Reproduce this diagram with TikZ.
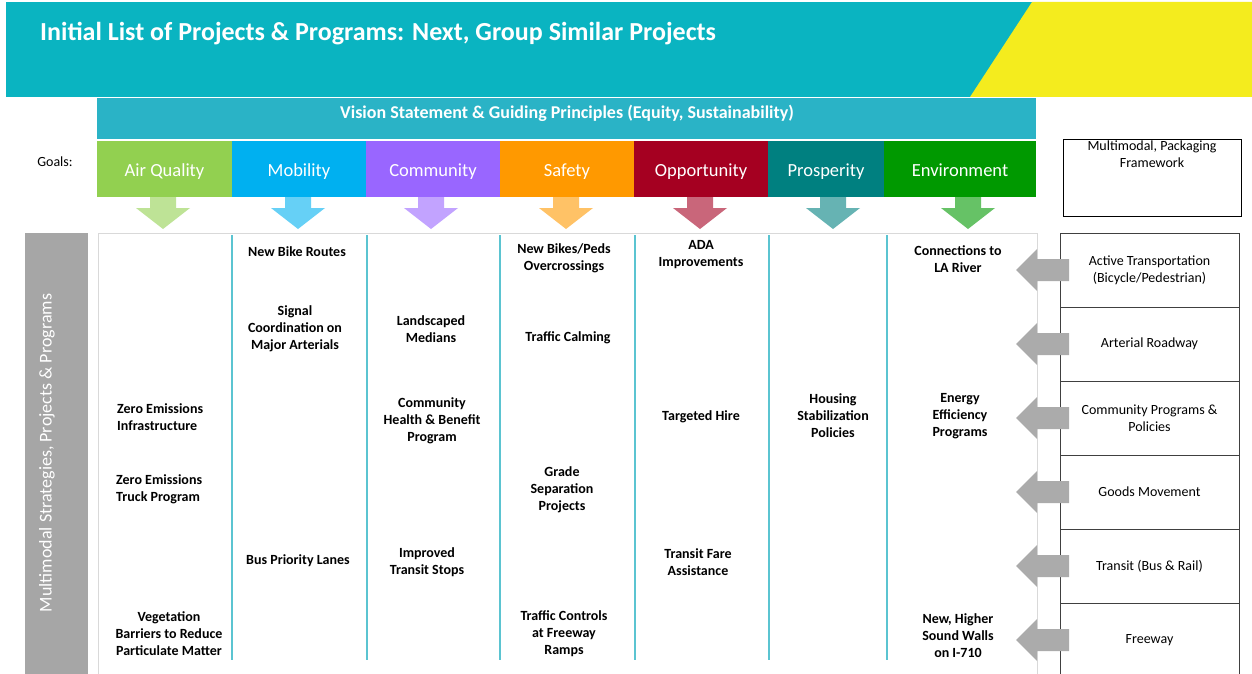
\documentclass[tikz,border=0pt]{standalone}
\usepackage{fontspec}
\setmainfont{Carlito}
\definecolor{HeadTeal}{HTML}{0AB4C1}
\definecolor{HeadYellow}{HTML}{F4EC1E}
\definecolor{Vision}{HTML}{2AB3C6}
\definecolor{AQ}{HTML}{92D050}
\definecolor{MO}{HTML}{00B0F0}
\definecolor{CO}{HTML}{9966FF}
\definecolor{SA}{HTML}{FF9900}
\definecolor{OP}{HTML}{A50021}
\definecolor{PR}{HTML}{008080}
\definecolor{EN}{HTML}{009900}
\definecolor{SepBlue}{HTML}{5BC4D1}
\definecolor{BarGray}{HTML}{A6A6A6}
\definecolor{ArrGray}{HTML}{ABABAB}
\definecolor{BoxLine}{HTML}{404040}
\begin{document}
\begin{tikzpicture}[x=1pt,y=-1pt,
  item/.style={font=\bfseries\fontsize{14}{17}\selectfont, align=center, inner sep=0pt, text=black},
  goalbox/.style={anchor=north west, minimum height=56, inner sep=0pt, outer sep=0pt},
  goaltext/.style={text=white, inner sep=0pt, anchor=base, font=\fontsize{18.5}{21}\selectfont},
  sepline/.style={draw=SepBlue, line width=1.1pt},
  modebox/.style={draw=BoxLine, line width=0.9pt, anchor=north west, minimum width=179, minimum height=74, inner sep=0pt, outer sep=0pt, align=center, font=\fontsize{14}{17}\selectfont},
  darr/.pic={\fill[pic actions] (-13,0) -- (13,0) -- (13,11) -- (27,11) -- (0,32) -- (-27,11) -- (-13,11) -- cycle;},
  larr/.pic={\fill[ArrGray] (0,0) -- (21,-21) -- (21,-11) -- (53,-11) -- (53,11) -- (21,11) -- (21,21) -- cycle;},
]
\useasboundingbox (0,0) rectangle (1252,674);
\fill[white] (0,0) rectangle (1252,674);
% header
\fill[HeadTeal] (6,2) rectangle (1252,97);
\fill[HeadYellow] (1032,2) -- (1252,2) -- (1252,97) -- (970,97) -- cycle;
\node[anchor=base west, text=white, inner sep=0pt, font=\bfseries\fontsize{26}{30}\selectfont] (title) at (40,41) {Initial List of Projects \& Programs: Next, Group Similar Projects};
% vision bar
\node[fill=Vision, anchor=north west, minimum width=939, minimum height=41, inner sep=0pt, outer sep=0pt] (vision) at (97,98) {};
\node[text=white, inner sep=0pt, font=\bfseries\fontsize{18}{21}\selectfont] (visiontext) at (567,113.5) {Vision Statement \& Guiding Principles (Equity, Sustainability)};
% goals
\node[anchor=center, inner sep=0pt, font=\fontsize{14}{17}\selectfont] (goalslbl) at (55,162) {Goals:};
\node[goalbox, fill=AQ, minimum width=135] (aq) at (97,141) {};
\node[goalbox, fill=MO, minimum width=134] (mo) at (232,141) {};
\node[goalbox, fill=CO, minimum width=134] (co) at (366,141) {};
\node[goalbox, fill=SA, minimum width=134] (sa) at (500,141) {};
\node[goalbox, fill=OP, minimum width=134] (op) at (634,141) {};
\node[goalbox, fill=PR, minimum width=116] (pr) at (768,141) {};
\node[goalbox, fill=EN, minimum width=152] (en) at (884,141) {};
\node[goaltext] (aqt) at ([yshift=-7]aq.center) {Air Quality};
\node[goaltext] (mot) at ([yshift=-7]mo.center) {Mobility};
\node[goaltext] (cot) at ([yshift=-7]co.center) {Community};
\node[goaltext] (sat) at ([yshift=-7]sa.center) {Safety};
\node[goaltext] (opt) at ([yshift=-7]op.center) {Opportunity};
\node[goaltext] (prt) at ([yshift=-7]pr.center) {Prosperity};
\node[goaltext] (ent) at ([yshift=-7]en.center) {Environment};
% down arrows
\pic[fill=AQ!60] at (163,197) {darr};
\pic[fill=MO!60] at (298,197) {darr};
\pic[fill=CO!60] at (431,197) {darr};
\pic[fill=SA!60] at (566,197) {darr};
\pic[fill=OP!60] at (700,197) {darr};
\pic[fill=PR!60] at (833,197) {darr};
\pic[fill=EN!60] at (968,197) {darr};
% left bar
\node[fill=BarGray, anchor=north west, minimum width=63, minimum height=446, inner sep=0pt, outer sep=0pt] (bar) at (25,233) {};
\node[rotate=90, text=white, inner sep=0pt, font=\fontsize{18}{21}\selectfont] (bartext) at (47,453) {Multimodal Strategies, Projects \& Programs};
% main table
\draw[draw=black!15, line width=1pt] (98,233) -- (1037,233) -- (1037,680);
\draw[draw=black!15, line width=1pt] (98,233) -- (98,680);
\foreach \x in {232,367,500,635,769,887} \draw[sepline] (\x,235) -- (\x,660);
% items
\node[item, align=left, anchor=west] (i1) at (117,417) {Zero Emissions\\Infrastructure};
\node[item, align=left, anchor=west] (i2) at (116,489) {Zero Emissions\\Truck Program};
\node[item] (i3) at (169,634) {Vegetation\\Barriers to Reduce\\Particulate Matter};
\node[item] (i4) at (297,252) {New Bike Routes};
\node[item] (i5) at (295,329) {Signal\\Coordination on\\Major Arterials};
\node[item] (i6) at (298,561) {Bus Priority Lanes};
\node[item] (i7) at (431,329) {Landscaped\\Medians};
\node[item] (i8) at (432,421) {Community\\Health \& Benefit\\Program};
\node[item] (i9) at (427,562) {Improved\\Transit Stops};
\node[item] (i10) at (564,258) {New Bikes/Peds\\Overcrossings};
\node[item] (i11) at (568,338) {Traffic Calming};
\node[item] (i12) at (562,490) {Grade\\Separation\\Projects};
\node[item] (i13) at (564,634) {Traffic Controls\\at Freeway\\Ramps};
\node[item] (i14) at (701,255) {ADA\\Improvements};
\node[item] (i15) at (701,417) {Targeted Hire};
\node[item] (i16) at (698,562) {Transit Fare\\Assistance};
\node[item] (i17) at (833,416) {Housing\\Stabilization\\Policies};
\node[item] (i18) at (958,259) {Connections to\\LA River};
\node[item] (i19) at (960,416) {Energy\\Efficiency\\Programs};
\node[item] (i20) at (958,636) {New, Higher\\Sound Walls\\on I-710};
% right side
\node[draw=black, line width=0.9pt, anchor=north west, minimum width=178, minimum height=77, inner sep=0pt] (fw) at (1063,139) {};
\node[align=center, inner sep=0pt, font=\fontsize{14}{17}\selectfont] (fwtext) at (1152,154) {Multimodal, Packaging\\Framework};
\node[modebox] (m1) at (1060,233) {Active Transportation\\(Bicycle/Pedestrian)};
\node[modebox] (m2) at (1060,307) {Arterial Roadway};
\node[modebox] (m3) at (1060,381) {Community Programs \&\\Policies};
\node[modebox] (m4) at (1060,455) {Goods Movement};
\node[modebox] (m5) at (1060,529) {Transit (Bus \& Rail)};
\node[modebox] (m6) at (1060,603) {Freeway};
\foreach \m in {m1,m2,m3,m4,m5,m6} \pic at ([xshift=-44]\m.west) {larr};
\end{tikzpicture}
\end{document}
